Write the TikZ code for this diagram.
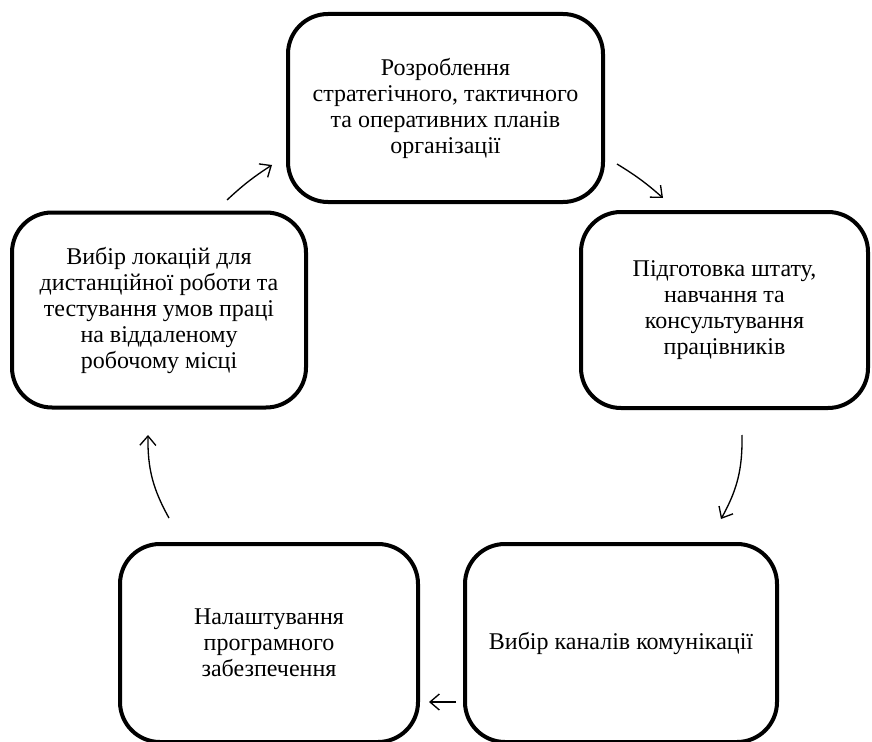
\documentclass[tikz,border=0pt]{standalone}
\usepackage{fontspec}
\setmainfont{Liberation Serif}
\usetikzlibrary{arrows.meta}
\tikzset{
  stage/.style={draw=black, line width=3pt, rounded corners=30pt, align=center,
    font=\fontsize{18}{19.5}\selectfont, inner sep=0pt},
  cyc/.style={line width=1pt, -{Straight Barb[length=7pt,width=12pt,line width=1pt]}},
}
\begin{document}
\begin{tikzpicture}[x=0.75pt,y=-0.75pt]
\useasboundingbox (0,0) rectangle (872,742);
\clip (0,0) rectangle (872,742);
\node[stage, minimum width=315*0.75pt, minimum height=188*0.75pt] (top) at (445.5,108)
  {Розроблення\\стратегічного, тактичного\\та оперативних планів\\організації};
\node[stage, minimum width=287*0.75pt, minimum height=196*0.75pt] (right) at (724.5,310)
  {Підготовка штату,\\навчання та\\консультування\\працівників};
\node[stage, minimum width=312*0.75pt, minimum height=198*0.75pt] (br) at (621,643)
  {Вибір каналів комунікації};
\node[stage, minimum width=298*0.75pt, minimum height=198*0.75pt] (bl) at (269,643)
  {Налаштування\\програмного\\забезпечення};
\node[stage, minimum width=294*0.75pt, minimum height=195*0.75pt] (left) at (159,310)
  {Вибір локацій для\\дистанційної роботи та\\тестування умов праці\\на віддаленому\\робочому місці};
\coordinate (a1s) at (227,200); \coordinate (a1e) at (272,165);
\coordinate (a2s) at (617,164); \coordinate (a2e) at (663,198);
\coordinate (a3s) at (742,435); \coordinate (a3e) at (721,519);
\coordinate (a4s) at (456,702); \coordinate (a4e) at (429,702);
\coordinate (a5s) at (169,518); \coordinate (a5e) at (148,435);
\draw[cyc] (a1s) to[bend left=5] (a1e);
\draw[cyc] (a2s) to[bend left=5] (a2e);
\draw[cyc] (a3s) to[bend left=15] (a3e);
\draw[cyc] (a4s) -- (a4e);
\draw[cyc] (a5s) to[bend left=15] (a5e);
\end{tikzpicture}
\end{document}
